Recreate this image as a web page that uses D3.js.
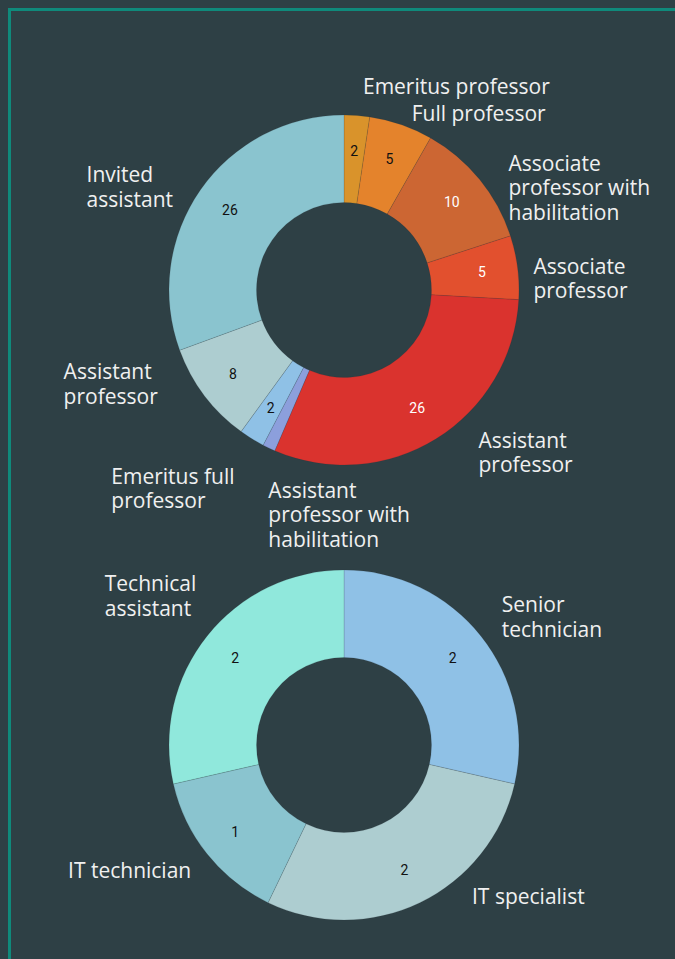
<!DOCTYPE html>
<html>
<head>
<meta charset="utf-8">
<script src="https://cdn.jsdelivr.net/npm/d3@7"></script>
<style>
  html, body { margin: 0; padding: 0; background: #2e4045; }
  svg { display: block; }
</style>
</head>
<body>
<div id="chart"></div>
<script>
// Faculty donut (top)
const facultyLabels = [
  'Emeritus professor',
  'Full professor',
  'Associate\nprofessor with\nhabilitation',
  'Associate\nprofessor',
  'Assistant\nprofessor',
  'Assistant\nprofessor with\nhabilitation',
  'Emeritus full\nprofessor',
  'Assistant\nprofessor',
  'Invited\nassistant'
];
const facultyValues = [2, 5, 10, 5, 26, 1, 2, 8, 26];
const facultyColors = ['#d9932b', '#e4832c', '#cc6633', '#e2502e', '#da332e', '#8c9fdc', '#8fc1e6', '#adcdd0', '#8ac4cf'];

// Technical staff donut (bottom)
const staffLabels = ['Senior\ntechnician', 'IT specialist', 'IT technician', 'Technical\nassistant'];
const staffValues = [2, 2, 1, 2];
const staffColors = ['#8fc1e6', '#adcdd0', '#8ac4cf', '#90e8dc'];

// small label nudges so outside labels don't collide (layout only)
const facultyNudge = [[5, -15], [6, 2], [18, 17], [2, 13], [35, 2], [147, 54], [-10, 38], [-35, -20], [-16, 5]];
const staffNudge = [[10, -10], [46, -19], [-5, 8], [0, -31]];

const W = 675, H = 959;
const R = 175;
const LINE_H = 24.5;
const FONT = 21;
const CAP = 15;
const MIN_TEXT_ANGLE = 0.1; // slices thinner than this get no value text

const svg = d3.select('#chart')
  .append('svg')
  .attr('width', W)
  .attr('height', H);

// frame
svg.append('rect')
  .attr('x', 9.5)
  .attr('y', 9.5)
  .attr('width', W)
  .attr('height', H)
  .attr('fill', 'none')
  .attr('stroke', '#0f8a7b')
  .attr('stroke-width', 3);

function luminance(c) {
  const rgb = d3.rgb(c);
  const lin = v => {
    v /= 255;
    return v <= 0.03928 ? v / 12.92 : Math.pow((v + 0.055) / 1.055, 2.4);
  };
  return 0.2126 * lin(rgb.r) + 0.7152 * lin(rgb.g) + 0.0722 * lin(rgb.b);
}

function drawDonut(cx, cy, labels, values, colors, nudges) {
  const data = labels.map((label, i) => ({ label, value: values[i], color: colors[i] }));

  const pie = d3.pie().sort(null).value(d => d.value);
  const arc = d3.arc().innerRadius(R * 0.5).outerRadius(R);
  const valueArc = d3.arc().innerRadius(R * 0.795).outerRadius(R * 0.795);
  const arcs = pie(data);

  const g = svg.append('g').attr('transform', `translate(${cx}, ${cy})`);

  g.selectAll('.slice')
    .data(arcs)
    .join('path')
    .attr('class', 'slice')
    .attr('d', arc)
    .attr('fill', d => d.data.color)
    .attr('stroke', 'rgba(40,50,55,0.3)')
    .attr('stroke-width', 0.5);

  // values inside (only where the slice is wide enough)
  g.selectAll('.value')
    .data(arcs.filter(d => d.endAngle - d.startAngle > MIN_TEXT_ANGLE))
    .join('text')
    .attr('class', 'value')
    .attr('transform', d => `translate(${valueArc.centroid(d)})`)
    .attr('text-anchor', 'middle')
    .attr('dominant-baseline', 'central')
    .style('font-family', 'Roboto, sans-serif')
    .style('font-size', '14px')
    .style('fill', d => luminance(d.data.color) > 0.28 ? '#111' : '#fff')
    .text(d => d.value);

  // labels outside
  const Rl = R + 14;
  g.selectAll('.slice-label')
    .data(arcs)
    .join('text')
    .attr('class', 'slice-label')
    .style('font-family', '"Open Sans", sans-serif')
    .style('font-size', FONT + 'px')
    .style('fill', '#f0f0f0')
    .each(function(d, i) {
      const t = d3.select(this);
      const lines = d.data.label.split('\n');
      lines.forEach((ln, j) => {
        t.append('tspan')
          .attr('x', 0)
          .attr('y', (j - (lines.length - 1) / 2) * LINE_H + CAP / 2)
          .text(ln);
      });
      const mid = (d.startAngle + d.endAngle) / 2;
      const ax = Rl * Math.sin(mid);
      const ay = -Rl * Math.cos(mid);
      const w = this.getBBox().width;
      const [nx, ny] = nudges[i];
      const left = Math.sin(mid) >= 0 ? ax + nx : ax + nx - w;
      t.attr('transform', `translate(${left}, ${ay + ny})`);
    });
}

drawDonut(344, 290, facultyLabels, facultyValues, facultyColors, facultyNudge);
drawDonut(344, 745, staffLabels, staffValues, staffColors, staffNudge);
</script>
</body>
</html>
